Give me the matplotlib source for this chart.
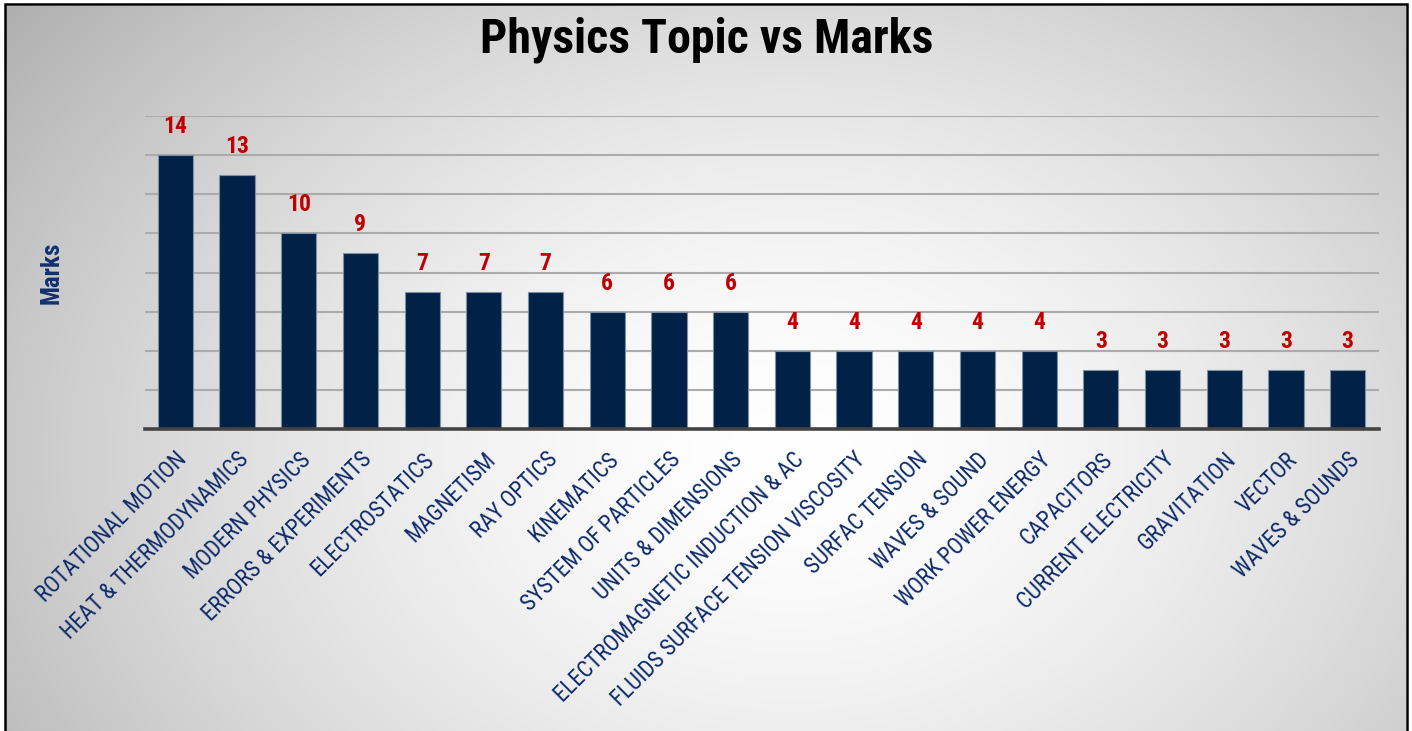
import numpy as np
import matplotlib
matplotlib.use("Agg")
import matplotlib.pyplot as plt
from matplotlib import font_manager
from matplotlib.patches import Rectangle
import matplotlib.transforms as mtransforms

topics = ["ROTATIONAL MOTION", "HEAT & THERMODYNAMICS", "MODERN PHYSICS",
          "ERRORS & EXPERIMENTS", "ELECTROSTATICS", "MAGNETISM", "RAY OPTICS",
          "KINEMATICS", "SYSTEM OF PARTICLES", "UNITS & DIMENSIONS",
          "ELECTROMAGNETIC INDUCTION & AC", "FLUIDS SURFACE TENSION VISCOSITY",
          "SURFAC TENSION", "WAVES & SOUND", "WORK POWER ENERGY", "CAPACITORS",
          "CURRENT ELECTRICITY", "GRAVITATION", "VECTOR", "WAVES & SOUNDS"]
marks = [14, 13, 10, 9, 7, 7, 7, 6, 6, 6, 4, 4, 4, 4, 4, 3, 3, 3, 3, 3]

available = {f.name for f in font_manager.fontManager.ttflist}
font = "DejaVu Sans"
for cand in ["Liberation Sans Narrow", "Roboto Condensed", "Arial Narrow", "Roboto"]:
    if cand in available:
        font = cand
        break
plt.rcParams['font.family'] = [font, 'DejaVu Sans']

W, H = 1412, 731
fig = plt.figure(figsize=(W / 100, H / 100), dpi=100)

# background radial gradient
bg = fig.add_axes([6 / W, 0, 1400 / W, (H - 6) / H])
bg.set_axis_off()
ny, nx = 300, 600
yy, xx = np.mgrid[0:ny, 0:nx]
cx, cy = nx * 0.56, ny * 0.38
r = np.sqrt(((xx - cx) / (nx * 0.60)) ** 2 + ((yy - cy) / (ny * 0.85)) ** 2)
r = np.clip(r, 0, 1.2)
val = np.clip(1.0 - 0.24 * r ** 1.6, 0, 1)
bg.imshow(np.dstack([val, val, val]), aspect='auto', extent=[0, 1, 0, 1],
          interpolation='bilinear', origin='lower')
bg.set_xlim(0, 1)
bg.set_ylim(0, 1)
fig.patches.append(Rectangle((5 / W, -0.01), 1402 / W, (H - 4) / H + 0.01,
                             transform=fig.transFigure, fill=False,
                             edgecolor='black', linewidth=1.8, zorder=10))

n = len(topics)
left = 144.5 / W
right = 1378.5 / W
bottom = 1 - 429 / H
top = 1 - 116 / H
ax = fig.add_axes([left, bottom, right - left, top - bottom])
ax.patch.set_alpha(0)
x = np.arange(n)
bars = ax.bar(x, marks, width=0.57, color='#022147', edgecolor='#7f8fa6',
              linewidth=0.8, zorder=3)
ax.set_xlim(-0.5, n - 0.5)
ax.set_ylim(0, 16)
ax.set_yticks(np.arange(0, 17, 2))
ax.yaxis.grid(True, color='#ababab', linewidth=1.5, zorder=0)
ax.tick_params(axis='y', length=0, labelleft=False)
ax.tick_params(axis='x', length=0, pad=0)
for s in ['top', 'right', 'left']:
    ax.spines[s].set_visible(False)
ax.spines['bottom'].set_color('#444444')
ax.spines['bottom'].set_linewidth(2.6)
ax.spines['bottom'].set_zorder(4)

ax.set_xticks(x)
ax.set_xticklabels(topics, rotation=45, ha='right', va='top',
                   rotation_mode='anchor', fontsize=16.5, color='#0d2a6a')
offset = mtransforms.ScaledTranslation(0.0, -0.19, fig.dpi_scale_trans)
for lbl in ax.get_xticklabels():
    lbl.set_transform(lbl.get_transform() + offset)

for xi, m in zip(x, marks):
    ax.annotate(str(m), (xi, m), xytext=(0, 17), textcoords='offset pixels',
                ha='center', va='bottom', color='#c00000', fontsize=17,
                fontweight='bold', zorder=5)

fig.text(52 / W, 1 - 273 / H, "Marks", rotation=90, ha='center', va='center',
         color='#12306e', fontsize=18, fontweight='bold')
fig.text(707 / W, 1 - 40 / H, "Physics Topic vs Marks", ha='center', va='center',
         color='black', fontsize=34.5, fontweight='bold')

fig.savefig("out.png", dpi=100)
